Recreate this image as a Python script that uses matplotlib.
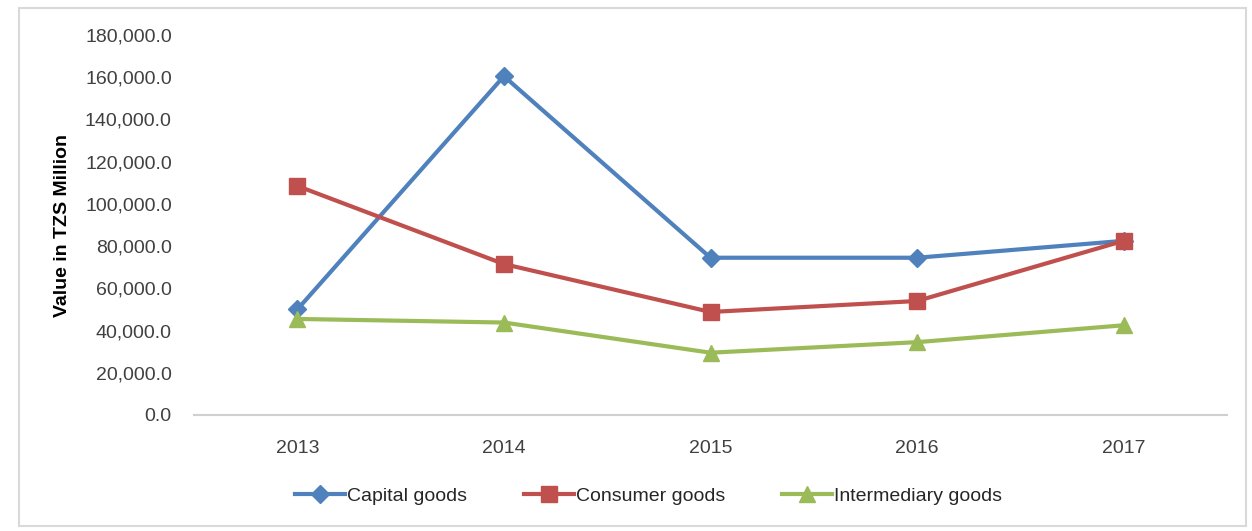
import matplotlib.pyplot as plt
from matplotlib.ticker import FuncFormatter
from matplotlib.patches import Rectangle

years = ['2013', '2014', '2015', '2016', '2017']
capital_goods = [50000, 160500, 74500, 74500, 82500]
consumer_goods = [108500, 71500, 48800, 54000, 82500]
intermediary_goods = [45500, 43800, 29500, 34500, 42500]

plt.rcParams['font.family'] = ['Liberation Sans Narrow', 'Liberation Sans', 'DejaVu Sans']

fig = plt.figure(figsize=(12.52, 5.31), dpi=100)
ax = fig.add_axes([0.155, 0.2185, 0.825, 0.7155])

x = range(len(years))
ax.plot(x, capital_goods, color='#4F81BD', lw=3, marker='D', ms=9, label='Capital goods')
ax.plot(x, consumer_goods, color='#C0504D', lw=3, marker='s', ms=12, label='Consumer goods')
ax.plot(x, intermediary_goods, color='#9BBB59', lw=3, marker='^', ms=11, label='Intermediary goods')

ax.set_xlim(-0.5, len(years) - 0.5)
ax.set_ylim(0, 180000)
ax.set_yticks(range(0, 180001, 20000))
ax.yaxis.set_major_formatter(FuncFormatter(lambda v, p: f'{v:,.1f}'))
ax.set_xticks(list(x))
ax.set_xticklabels(years)
ax.tick_params(length=0, labelsize=14, colors='#404040')
ax.tick_params(axis='x', pad=18)
ax.tick_params(axis='y', pad=16)

for s in ['top', 'right', 'left']:
    ax.spines[s].set_visible(False)
ax.spines['bottom'].set_color('#D0D0D0')
ax.spines['bottom'].set_linewidth(1.5)

ax.set_ylabel('Value in TZS Million', fontsize=14, fontweight='bold', labelpad=10)

ax.legend(loc='upper center', bbox_to_anchor=(0.44, -0.145), ncol=3, frameon=False,
          fontsize=14, handlelength=2.6, columnspacing=2.9, handletextpad=0.1,
          labelcolor='#262626')

fig.patches.append(Rectangle((0.015, 0.01), 0.98, 0.975, transform=fig.transFigure,
                             fill=False, edgecolor='#D9D9D9', lw=1.5))

fig.savefig('out.png', dpi=100)
